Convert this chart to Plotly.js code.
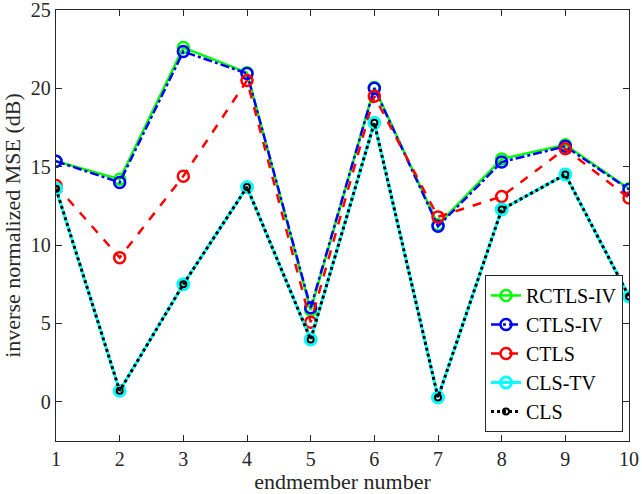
<!DOCTYPE html>
<html><head><meta charset="utf-8">
<script src="https://cdn.plot.ly/plotly-3.0.1.min.js"></script>
<style>body{margin:0;padding:0;background:#fff}#chart{width:642px;height:494px}</style>
</head><body><div id="chart"></div>
<script>
const endmembers = [1,2,3,4,5,6,7,8,9,10];
const rctlsIV = [15.35, 14.2, 22.6, 21.0, 5.85, 20.05, 11.3, 15.5, 16.4, 13.6];
const ctlsIV  = [15.35, 14.0, 22.35, 20.95, 6.0, 20.0, 11.2, 15.3, 16.3, 13.55];
const ctls    = [13.8, 9.2, 14.4, 20.5, 5.08, 19.5, 11.8, 13.1, 16.15, 13.0];
const clsTV   = [13.6, 0.7, 7.5, 13.7, 3.98, 17.8, 0.28, 12.27, 14.5, 6.72];
const cls     = [13.6, 0.7, 7.5, 13.7, 3.98, 17.8, 0.28, 12.27, 14.5, 6.72];
const names = ['RCTLS-IV','CTLS-IV','CTLS','CLS-TV','CLS'];

const SERIF = 'Times New Roman, Times, Liberation Serif, DejaVu Serif, serif';

const traces = [
  {x: endmembers, y: rctlsIV, name: names[0], mode:'lines+markers',
   line:{color:'#00ff00', width:2.5, dash:'solid'},
   marker:{symbol:'circle-open', size:11, color:'#00ff00', line:{width:2.5}}},
  {x: endmembers, y: ctlsIV, name: names[1], mode:'lines+markers',
   line:{color:'#0000ff', width:2.5, dash:'dashdot'},
   marker:{symbol:'circle-open', size:11, color:'#0000ff', line:{width:2.5}}},
  {x: endmembers, y: ctls, name: names[2], mode:'lines+markers',
   line:{color:'#ff0000', width:2.5, dash:'dash'},
   marker:{symbol:'circle-open', size:11, color:'#ff0000', line:{width:2.5}}},
  {x: endmembers, y: clsTV, name: names[3], mode:'lines+markers',
   line:{color:'#00ffff', width:3, dash:'solid'},
   marker:{symbol:'circle-open', size:11, color:'#00ffff', line:{width:3}}},
  {x: endmembers, y: cls, name: names[4], mode:'lines+markers',
   line:{color:'#000000', width:3, dash:'dot'},
   marker:{symbol:'circle-open', size:6, color:'#000000', line:{width:2}}}
];

const axisCommon = {
  showgrid:false, zeroline:false, showline:true, mirror:'ticks',
  linecolor:'#262626', linewidth:1.2, ticks:'inside', ticklen:6, tickcolor:'#262626',
  ticklabeloverflow:'allow',
  tickfont:{family:SERIF, size:20, color:'#262626'}
};

const layout = {
  width:642, height:494,
  margin:{l:56, r:13, t:10, b:53},
  paper_bgcolor:'#fff', plot_bgcolor:'#fff',
  font:{family:SERIF, color:'#262626'},
  xaxis: Object.assign({}, axisCommon, {
    range:[1,10], tickvals:endmembers, ticktext:endmembers.map(String),
    title:{text:'endmember number', font:{family:SERIF, size:22, color:'#262626'}, standoff:0}
  }),
  yaxis: Object.assign({}, axisCommon, {
    range:[-2.5,25], tickvals:[0,5,10,15,20,25],
    title:{text:'inverse normalized MSE (dB)', font:{family:SERIF, size:22, color:'#262626'}, standoff:4}
  }),
  legend:{x:0.9895, y:0.021, xanchor:'right', yanchor:'bottom',
    bgcolor:'#fff', bordercolor:'#262626', borderwidth:1,
    font:{family:SERIF, size:20, color:'#000'}, tracegroupgap:0, itemwidth:30},
  showlegend:true
};

Plotly.newPlot('chart', traces, layout, {displayModeBar:false, staticPlot:true});
</script></body></html>
